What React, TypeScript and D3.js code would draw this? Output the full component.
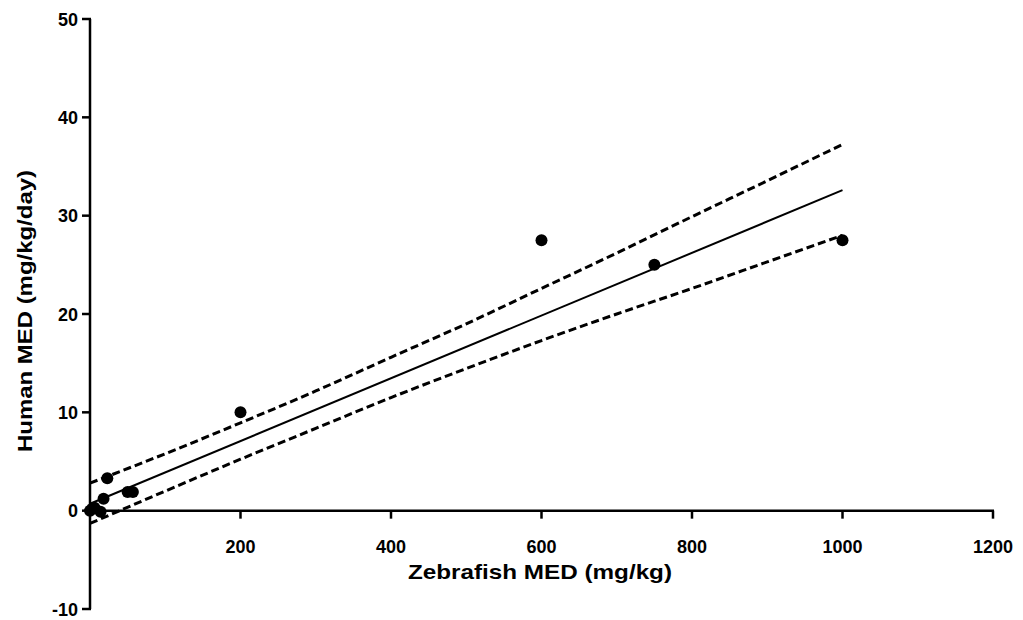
import React from "react";
import * as d3 from "d3";

const pointX = [0, 3, 6, 14, 18, 23, 50, 57, 200, 600, 750, 1000];
const pointY = [0, 0.2, 0.3, -0.1, 1.2, 3.3, 1.9, 1.9, 10, 27.5, 25, 27.5];

const fitX = [0, 1000];
const fitY = [0.7, 32.6];

const bandX = [0, 100, 200, 300, 400, 500, 600, 700, 800, 900, 1000];
const upperY = [2.8, 5.79, 8.93, 12.17, 15.6, 19.0, 22.6, 26.2, 29.9, 33.55, 37.25];
const lowerY = [-1.3, 1.99, 5.23, 8.37, 11.5, 14.45, 17.3, 20.0, 22.6, 25.3, 28.0];

const xTicks = [200, 400, 600, 800, 1000, 1200];
const yTicks = [-10, 0, 10, 20, 30, 40, 50];

const xTitle = "Zebrafish MED (mg/kg)";
const yTitle = "Human MED (mg/kg/day)";

export default function App() {
  const W = 1023;
  const H = 620;
  const x = d3.scaleLinear().domain([0, 1200]).range([90, 993]);
  const y = d3.scaleLinear().domain([-10, 50]).range([609, 19]);
  const font = "'Liberation Sans', Arial, sans-serif";

  const line = d3
    .line<[number, number]>()
    .x((d) => x(d[0]))
    .y((d) => y(d[1]));
  const curve = d3
    .line<[number, number]>()
    .x((d) => x(d[0]))
    .y((d) => y(d[1]))
    .curve(d3.curveMonotoneX);

  const fitPts = fitX.map((v, i) => [v, fitY[i]] as [number, number]);
  const upPts = bandX.map((v, i) => [v, upperY[i]] as [number, number]);
  const loPts = bandX.map((v, i) => [v, lowerY[i]] as [number, number]);
  const y0 = y(0);

  return (
    <svg
      width={W}
      height={H}
      style={{ position: "absolute", left: 0, top: 0, background: "#fff" }}
    >
      <rect x={0} y={0} width={W} height={H} fill="#fff" />
      {/* bands */}
      <path d={curve(upPts) || ""} fill="none" stroke="#000" strokeWidth={3} strokeDasharray="8 4" />
      <path d={curve(loPts) || ""} fill="none" stroke="#000" strokeWidth={3} strokeDasharray="8 4" />
      <path d={line(fitPts) || ""} fill="none" stroke="#000" strokeWidth={2} />
      {/* points */}
      {pointX.map((v, i) => (
        <circle key={i} cx={x(v)} cy={y(pointY[i])} r={6} fill="#000" />
      ))}
      {/* y axis */}
      <line x1={x(0)} x2={x(0)} y1={y(50)} y2={y(-10)} stroke="#000" strokeWidth={2.5} />
      {yTicks.map((t) => (
        <g key={t}>
          <line x1={x(0) - 8} x2={x(0) + 1} y1={y(t)} y2={y(t)} stroke="#000" strokeWidth={2.5} />
          <text
            x={x(0) - 12}
            y={y(t) + 6.5}
            textAnchor="end"
            fontFamily={font}
            fontWeight="bold"
            fontSize={18}
          >
            {t}
          </text>
        </g>
      ))}
      {/* x axis */}
      <line x1={x(0)} x2={x(1200) + 1} y1={y0} y2={y0} stroke="#000" strokeWidth={2.5} />
      {xTicks.map((t) => (
        <g key={t}>
          <line x1={x(t)} x2={x(t)} y1={y0} y2={y0 + 8} stroke="#000" strokeWidth={2.5} />
          <text
            x={x(t)}
            y={553}
            textAnchor="middle"
            fontFamily={font}
            fontWeight="bold"
            fontSize={18}
          >
            {t}
          </text>
        </g>
      ))}
      <text
        x={540}
        y={579}
        textAnchor="middle"
        fontFamily={font}
        fontWeight="bold"
        fontSize={21}
        textLength={264}
        lengthAdjust="spacingAndGlyphs"
      >
        {xTitle}
      </text>
      <text
        transform={`translate(32,311) rotate(-90)`}
        textAnchor="middle"
        fontFamily={font}
        fontWeight="bold"
        fontSize={21}
        textLength={282}
        lengthAdjust="spacingAndGlyphs"
      >
        {yTitle}
      </text>
    </svg>
  );
}
